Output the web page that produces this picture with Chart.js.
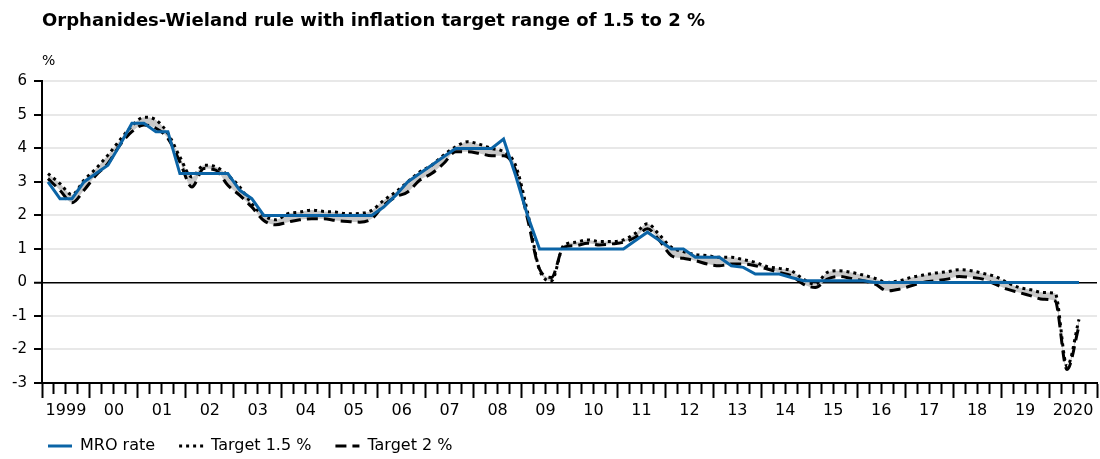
<!DOCTYPE html>
<html>
<head>
<meta charset="utf-8">
<title>Orphanides-Wieland rule</title>
<script src="https://cdn.jsdelivr.net/npm/chart.js@4.4.1/dist/chart.umd.min.js"></script>
<style>
  html, body { margin: 0; padding: 0; background: #fff; }
  #wrap { width: 1100px; height: 459px; }
</style>
</head>
<body>
<div id="wrap"><canvas id="chart" width="1100" height="459"></canvas></div>
<script>
// ========== DATA ==========
const yearLabels = ['1999', '00', '01', '02', '03', '04', '05', '06', '07', '08', '09',
    '10', '11', '12', '13', '14', '15', '16', '17', '18', '19', '2020'];

// quarters 1999Q1 .. 2020Q4 (series run to 2020Q3)
const quarters = [];
for (let y = 1999; y <= 2020; y++) {
    for (let q = 1; q <= 4; q++) quarters.push(y + 'Q' + q);
}

const mroRate = [
    3.0, 2.5, 2.5, 3.0, 3.25, 3.5, 4.1, 4.75, 4.75, 4.5, 4.5, 3.25,
    3.25, 3.25, 3.25, 3.25, 2.75, 2.5, 2.0, 2.0, 2.0, 2.0, 2.0, 2.0,
    2.0, 2.0, 2.0, 2.0, 2.25, 2.6, 3.0, 3.25, 3.5, 3.75, 4.0, 4.0,
    4.0, 4.0, 4.28, 3.2, 2.0, 1.0, 1.0, 1.0, 1.0, 1.0, 1.0, 1.0,
    1.0, 1.25, 1.5, 1.25, 1.0, 1.0, 0.75, 0.75, 0.75, 0.5, 0.45, 0.25,
    0.25, 0.25, 0.15, 0.05, 0.05, 0.05, 0.05, 0.05, 0.05, 0.0, 0.0, 0.0,
    0.0, 0.0, 0.0, 0.0, 0.0, 0.0, 0.0, 0.0, 0.0, 0.0, 0.0, 0.0,
    0.0, 0.0, 0.0
];

const target15 = [
    3.25, 2.95, 2.62, 3.05, 3.4, 3.8, 4.25, 4.67, 4.93, 4.85, 4.45, 3.75,
    3.15, 3.5, 3.45, 3.2, 2.85, 2.35, 2.0, 1.87, 2.05, 2.1, 2.16, 2.12,
    2.1, 2.05, 2.06, 2.15, 2.45, 2.7, 3.0, 3.3, 3.5, 3.8, 4.05, 4.2,
    4.12, 4.0, 3.9, 3.5, 2.1, 0.38, 0.05, 1.1, 1.2, 1.27, 1.22, 1.22,
    1.27, 1.47, 1.75, 1.42, 1.05, 0.92, 0.83, 0.8, 0.75, 0.75, 0.68, 0.6,
    0.47, 0.42, 0.35, 0.1, -0.05, 0.3, 0.35, 0.3, 0.22, 0.12, 0.0, 0.05,
    0.15, 0.22, 0.28, 0.32, 0.38, 0.35, 0.27, 0.18, 0.0, -0.15, -0.22, -0.3,
    -0.32, -2.5, -1.1
];

const target2 = [
    3.1, 2.75, 2.38, 2.75, 3.2, 3.55, 4.1, 4.5, 4.7, 4.6, 4.3, 3.6,
    2.85, 3.4, 3.35, 2.9, 2.6, 2.25, 1.85, 1.72, 1.8, 1.87, 1.9, 1.9,
    1.85, 1.82, 1.8, 1.9, 2.3, 2.55, 2.7, 3.05, 3.25, 3.55, 3.9, 3.9,
    3.85, 3.78, 3.78, 3.35, 1.9, 0.4, 0.15, 1.05, 1.1, 1.17, 1.12, 1.15,
    1.2, 1.35, 1.6, 1.25, 0.8, 0.72, 0.65, 0.55, 0.5, 0.55, 0.55, 0.5,
    0.4, 0.3, 0.2, -0.05, -0.15, 0.1, 0.18, 0.12, 0.05, -0.05, -0.25, -0.2,
    -0.1, 0.0, 0.05, 0.1, 0.18, 0.15, 0.1, -0.05, -0.2, -0.3, -0.4, -0.5,
    -0.55, -2.6, -1.3
];

const yTicks = [-3, -2, -1, 0, 1, 2, 3, 4, 5, 6];

// ========== HELPERS ==========
const FONT = 'DejaVu Sans';
// a point sits in the middle of its quarter on the quarter-based x scale
const toPoints = arr => arr.map((v, i) => ({ x: i + 0.5, y: v }));

// legend sits a bit right of the canvas edge and close to the bottom
// (bottom edge stays put so the legend's clip box keeps the text whole)
const legendShift = {
    id: 'legendShift',
    afterLayout(chart) {
        const lg = chart.legend;
        lg.left += 24; lg.right += 24;
        lg.top -= 9;
        lg.height = lg.bottom - lg.top;
    }
};

// ========== CHART ==========
const ctx = document.getElementById('chart').getContext('2d');
new Chart(ctx, {
    type: 'line',
    data: {
        datasets: [
            {
                label: 'MRO rate',
                data: toPoints(mroRate),
                borderColor: '#0b64a6',
                backgroundColor: '#0b64a6',
                borderWidth: 3,
                pointRadius: 0,
                fill: false,
                tension: 0
            },
            {
                label: 'Target 1.5 %',
                data: toPoints(target15),
                borderColor: '#000',
                backgroundColor: '#000',
                borderWidth: 3,
                borderDash: [3, 4],
                pointRadius: 0,
                fill: false,
                cubicInterpolationMode: 'monotone'
            },
            {
                label: 'Target 2 %',
                data: toPoints(target2),
                borderColor: '#000',
                backgroundColor: '#c8c8c8',
                borderWidth: 3,
                borderDash: [11, 6],
                pointRadius: 0,
                fill: { target: 1, above: '#c8c8c8', below: '#c8c8c8' },
                cubicInterpolationMode: 'monotone'
            }
        ]
    },
    options: {
        responsive: false,
        animation: false,
        events: [],
        layout: { padding: 0 },
        plugins: {
            tooltip: { enabled: false },
            title: {
                display: true,
                text: 'Orphanides-Wieland rule with inflation target range of 1.5 to 2 %',
                align: 'start',
                fullSize: false,
                color: '#000',
                font: { family: FONT, size: 18, weight: 'bold' },
                padding: { top: 11, bottom: 18 }
            },
            subtitle: {
                display: true,
                text: '%',
                align: 'start',
                fullSize: false,
                color: '#000',
                font: { family: FONT, size: 14 },
                padding: { top: 2, bottom: 12 }
            },
            legend: {
                position: 'bottom',
                align: 'start',
                maxHeight: 36,
                labels: {
                    usePointStyle: true,
                    pointStyle: 'line',
                    pointStyleWidth: 24,
                    padding: 24,
                    color: '#000',
                    font: { family: FONT, size: 16 },
                    generateLabels: chart => {
                        const items = Chart.defaults.plugins.legend.labels.generateLabels(chart);
                        items.forEach(it => {
                            const ds = chart.data.datasets[it.datasetIndex];
                            it.lineDash = ds.borderDash || [];
                            it.strokeStyle = ds.borderColor;
                            it.lineWidth = ds.borderWidth;
                        });
                        return items;
                    }
                }
            }
        },
        scales: {
            x: {
                type: 'linear',
                min: 0,
                max: 88,
                afterBuildTicks: s => { s.ticks = quarters.map((q, i) => ({ value: i })).concat([{ value: 88 }]); },
                afterFit: s => { s.height = 40; },
                border: { color: '#000', width: 2 },
                grid: {
                    drawOnChartArea: false,
                    drawTicks: true,
                    tickLength: 15,
                    tickWidth: 2,
                    tickColor: '#000',
                    // year boundaries get the full tick, quarters a short one
                    tickBorderDash: c => (c.tick && c.tick.value % 4 === 0) ? [] : [10, 40]
                },
                ticks: {
                    autoSkip: false,
                    maxRotation: 0,
                    minRotation: 0,
                    padding: 3,
                    color: '#000',
                    font: { family: FONT, size: 16 },
                    callback: v => (v % 4 === 2) ? yearLabels[(v - 2) / 4] : ''
                }
            },
            y: {
                min: -3,
                max: 6,
                afterBuildTicks: s => { s.ticks = yTicks.map(v => ({ value: v })); },
                afterFit: s => { s.width = 42; },
                border: { color: '#000', width: 2 },
                grid: {
                    color: c => (c.tick && c.tick.value === 0) ? '#000' : '#e8e8e8',
                    lineWidth: c => (c.tick && c.tick.value === 0) ? 1.5 : 2,
                    tickColor: '#000',
                    tickLength: 8,
                    tickWidth: 2
                },
                ticks: {
                    padding: 7,
                    color: '#000',
                    font: { family: FONT, size: 15 }
                }
            }
        }
    },
    plugins: [legendShift]
});
</script>
</body>
</html>
